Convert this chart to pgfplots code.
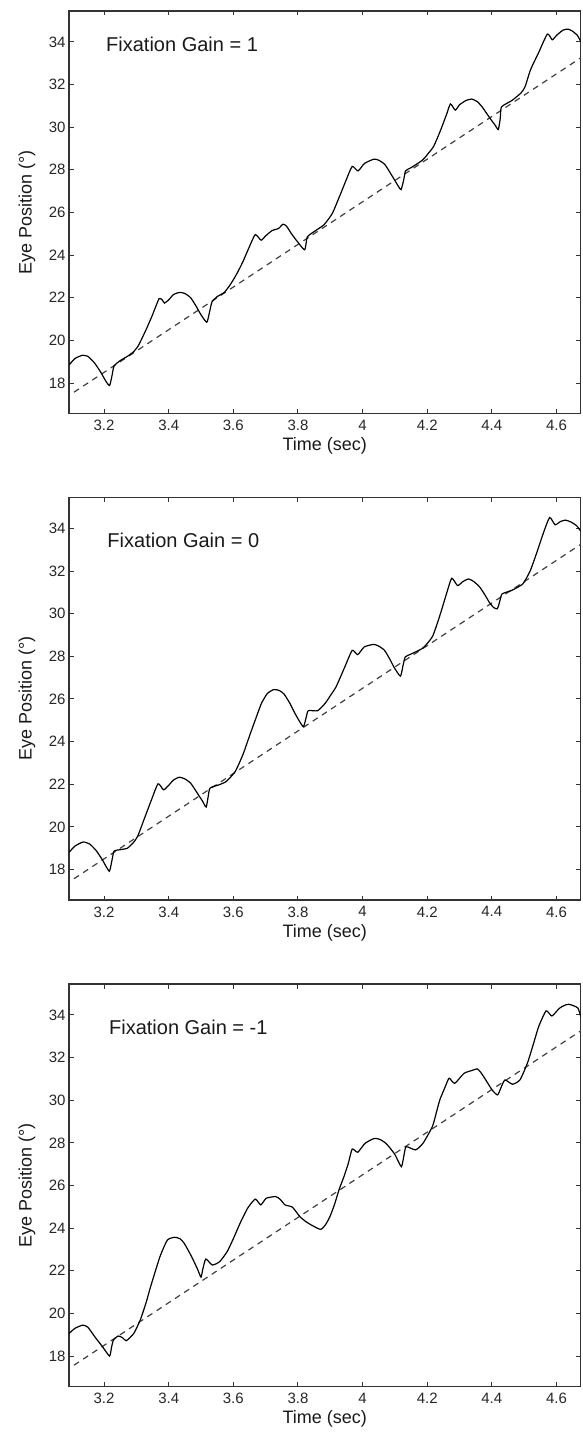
\documentclass[border=0pt]{standalone}
\usepackage{fontspec}
\setmainfont{Liberation Sans}
\usepackage{pgfplots}
\pgfplotsset{compat=1.18}

\pgfplotsset{panel/.style={
  scale only axis, width=511.5pt, height=402.5pt,
  xmin=3.0915, xmax=4.6745, ymin=16.57, ymax=35.45,
  xtick={3.2,3.4,3.6,3.8,4.0,4.2,4.4,4.6},
  xticklabels={3.2,3.4,3.6,3.8,4,4.2,4.4,4.6},
  ytick={18,20,22,24,26,28,30,32,34},
  tick align=inside, major tick length=4.5pt,
  axis line style={line width=1.3pt, black!80},
  every tick/.style={line width=1pt, black!80},
  tick label style={font=\fontsize{15}{18}\selectfont, black!85},
  xticklabel style={yshift=-3pt},
  label style={font=\fontsize{18}{21}\selectfont, black!90},
  /pgf/number format/assume math mode=true,
  xlabel={Time (sec)}, ylabel={Eye Position (°)},
  ylabel style={at={(axis description cs:-0.082,0.5)}, anchor=center},
  xlabel style={at={(axis description cs:0.5,-0.081)}, anchor=center},
  anchor=north west, clip=true,
}}
\tikzset{eye/.style={black, line width=1.2pt, smooth, tension=0.35},
         target/.style={black!75, line width=1.2pt, dash pattern=on 6pt off 5pt},
         gain/.style={font=\fontsize{20}{24}\selectfont, black!90, anchor=base west, inner sep=0pt}}

\begin{document}
\begin{tikzpicture}
\path[use as bounding box] (0,0) rectangle (583pt,-1434pt);

% ---------- Panel 1 ----------
\begin{axis}[panel, at={(69pt,-11pt)}]
\addplot[target] coordinates {(3.05,17.0) (4.70,33.5)};
\addplot[eye] coordinates {
(3.092,18.85) (3.110,19.15) (3.133,19.30) (3.150,19.25) (3.170,18.95)
(3.190,18.50) (3.205,18.10) (3.217,17.88) (3.224,18.30) (3.231,18.80)
(3.250,19.05) (3.272,19.25) (3.290,19.45) (3.306,19.75) (3.330,20.50)
(3.350,21.20) (3.370,21.95) (3.380,21.90) (3.387,21.75) (3.400,21.90)
(3.415,22.15) (3.434,22.25) (3.450,22.20) (3.468,22.00) (3.485,21.60)
(3.500,21.20) (3.518,20.85) (3.526,21.30) (3.534,21.80) (3.550,22.05)
(3.572,22.25) (3.590,22.60) (3.610,23.10) (3.630,23.70) (3.650,24.40)
(3.668,24.96) (3.686,24.70) (3.700,24.90) (3.720,25.15) (3.740,25.25)
(3.754,25.45) (3.765,25.35) (3.780,25.00) (3.800,24.60) (3.821,24.25)
(3.829,24.85) (3.850,25.10) (3.879,25.40) (3.895,25.70) (3.908,26.00)
(3.930,26.80) (3.950,27.55) (3.968,28.16) (3.986,27.95) (4.006,28.30)
(4.035,28.50) (4.050,28.45) (4.069,28.25) (4.090,27.75) (4.110,27.25)
(4.119,27.07) (4.127,27.50) (4.133,27.95) (4.150,28.10) (4.185,28.45)
(4.205,28.80) (4.220,29.10) (4.240,29.80) (4.260,30.60) (4.272,31.09)
(4.287,30.80) (4.300,31.05) (4.320,31.25) (4.338,31.32) (4.355,31.20)
(4.370,30.95) (4.393,30.45) (4.410,30.10) (4.420,29.89) (4.426,30.40)
(4.430,30.95) (4.462,31.25) (4.490,31.60) (4.503,31.90) (4.520,32.70)
(4.545,33.50) (4.572,34.37) (4.587,34.10) (4.600,34.30) (4.620,34.55)
(4.636,34.60) (4.650,34.50) (4.665,34.30) (4.676,34.00)
};
\node[gain] at (axis cs:3.206,33.53) {Fixation Gain = 1};
\end{axis}

% ---------- Panel 2 ----------
\begin{axis}[panel, at={(69pt,-497.5pt)}]
\addplot[target] coordinates {(3.05,17.0) (4.70,33.5)};
\addplot[eye] coordinates {
(3.092,18.81) (3.110,19.10) (3.135,19.29) (3.155,19.20) (3.175,18.90)
(3.195,18.45) (3.216,17.92) (3.224,18.40) (3.231,18.86) (3.250,18.93)
(3.272,19.00) (3.290,19.25) (3.304,19.56) (3.325,20.40) (3.345,21.20)
(3.367,22.02) (3.384,21.74) (3.400,21.95) (3.415,22.20) (3.433,22.33)
(3.450,22.25) (3.468,22.05) (3.490,21.55) (3.505,21.20) (3.516,20.93)
(3.522,21.40) (3.528,21.82) (3.555,21.97) (3.578,22.13) (3.606,22.60)
(3.630,23.40) (3.653,24.39) (3.670,25.10) (3.687,25.79) (3.705,26.25)
(3.725,26.44) (3.742,26.40) (3.757,26.23) (3.775,25.80) (3.791,25.32)
(3.805,24.95) (3.817,24.70) (3.825,25.10) (3.832,25.45) (3.861,25.45)
(3.884,25.79) (3.900,26.15) (3.918,26.57) (3.945,27.50) (3.968,28.28)
(3.985,28.08) (4.005,28.44) (4.034,28.56) (4.050,28.48) (4.068,28.28)
(4.085,27.85) (4.097,27.50) (4.117,27.07) (4.125,27.55) (4.132,27.97)
(4.149,28.10) (4.184,28.36) (4.200,28.60) (4.218,28.98) (4.240,29.95)
(4.260,30.95) (4.276,31.66) (4.294,31.32) (4.310,31.50) (4.328,31.63)
(4.345,31.50) (4.363,31.24) (4.380,30.85) (4.392,30.54) (4.405,30.30)
(4.417,30.23) (4.425,30.60) (4.432,30.93) (4.461,31.09) (4.496,31.40)
(4.519,32.02) (4.540,32.90) (4.560,33.80) (4.579,34.51) (4.596,34.17)
(4.612,34.32) (4.628,34.39) (4.645,34.30) (4.663,34.12) (4.676,33.85)
};
\node[gain] at (axis cs:3.210,33.11) {Fixation Gain = 0};
\end{axis}

% ---------- Panel 3 ----------
\begin{axis}[panel, at={(69pt,-984pt)}]
\addplot[target] coordinates {(3.05,17.0) (4.70,33.5)};
\addplot[eye] coordinates {
(3.092,19.06) (3.110,19.30) (3.134,19.45) (3.150,19.35) (3.171,18.91)
(3.195,18.44) (3.217,18.00) (3.223,18.40) (3.229,18.75) (3.244,18.94)
(3.258,18.85) (3.269,18.72) (3.292,19.06) (3.312,19.69) (3.330,20.50)
(3.344,21.25) (3.373,22.66) (3.396,23.44) (3.419,23.57) (3.435,23.50)
(3.448,23.29) (3.471,22.66) (3.490,22.05) (3.500,21.70) (3.506,22.10)
(3.515,22.55) (3.535,22.27) (3.558,22.43) (3.581,22.90) (3.600,23.50)
(3.621,24.23) (3.645,24.95) (3.668,25.36) (3.685,25.09) (3.702,25.40)
(3.731,25.48) (3.745,25.35) (3.760,25.09) (3.783,24.98) (3.806,24.54)
(3.825,24.30) (3.841,24.15) (3.870,23.94) (3.885,24.15) (3.899,24.54)
(3.913,25.10) (3.927,25.79) (3.942,26.40) (3.956,27.04) (3.968,27.71)
(3.985,27.56) (4.008,27.98) (4.037,28.21) (4.055,28.15) (4.072,27.98)
(4.088,27.70) (4.101,27.43) (4.120,26.88) (4.128,27.40) (4.135,27.82)
(4.164,27.67) (4.187,27.98) (4.216,28.76) (4.228,29.40) (4.239,30.01)
(4.255,30.60) (4.268,31.03) (4.285,30.79) (4.314,31.26) (4.340,31.40)
(4.355,31.47) (4.366,31.30) (4.378,31.03) (4.401,30.48) (4.418,30.25)
(4.430,30.65) (4.441,30.95) (4.464,30.75) (4.487,30.95) (4.510,31.73)
(4.528,32.60) (4.545,33.45) (4.568,34.19) (4.586,33.95) (4.609,34.31)
(4.625,34.45) (4.638,34.50) (4.655,34.42) (4.667,34.31) (4.676,33.90)
};
\node[gain] at (axis cs:3.215,33.08) {Fixation Gain = -1};
\end{axis}
\end{tikzpicture}
\end{document}
